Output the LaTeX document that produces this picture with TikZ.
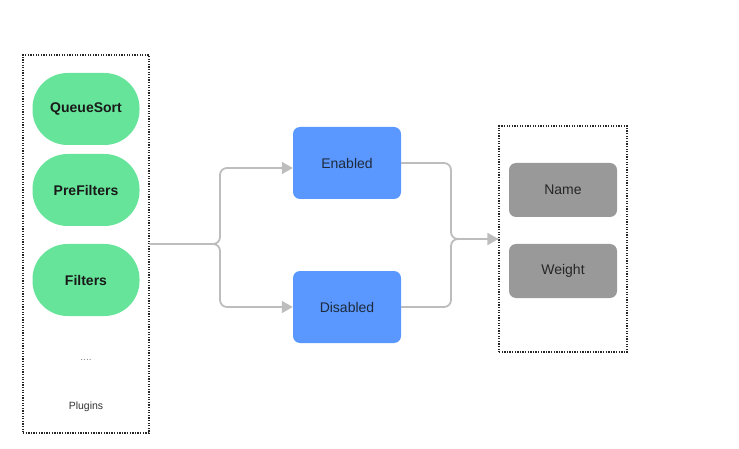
\documentclass[tikz,border=0pt]{standalone}
\usepackage{fontspec}
\setmainfont{Liberation Sans}
\usetikzlibrary{arrows.meta,calc}
\definecolor{plugin}{HTML}{66E59A}
\definecolor{state}{HTML}{5A98FF}
\definecolor{field}{HTML}{999999}
\definecolor{conn}{HTML}{BDBDBD}
\definecolor{txt}{HTML}{1E2A3A}
\tikzset{
  x=1pt,y=-1pt,
  frame/.style={draw=black!85, line width=1.1pt, dash pattern=on 1.3pt off 1.3pt},
  plug/.style={fill=plugin, draw=none, rounded corners=35pt, minimum width=107pt, minimum height=72pt, font=\fontsize{14}{16}\selectfont\bfseries, text=black!90},
  statebox/.style={fill=state, draw=none, rounded corners=7pt, minimum width=108pt, minimum height=72pt, font=\fontsize{14}{16}\selectfont, text=txt},
  fieldbox/.style={fill=field, draw=none, rounded corners=7pt, minimum width=108pt, minimum height=54pt, font=\fontsize{14}{16}\selectfont, text=black!85},
  link/.style={draw=conn, line width=1.8pt, rounded corners=7pt},
  tip/.style={-{Triangle[length=11pt,width=12pt]}}
}
\begin{document}
\begin{tikzpicture}
\useasboundingbox (0,0) rectangle (739,449);
\node[frame, minimum width=126pt, minimum height=378pt, inner sep=0pt] (lbox) at (86,244) {};
\node[plug] (qs) at (86,109) {QueueSort};
\node[plug] (pf) at (86,190) {PreFilters};
\node[plug] (fi) at (86,280) {Filters};
\node[text=black!50, font=\fontsize{10}{11}\selectfont] (dots) at (86,360) {....};
\node[text=black!80, font=\fontsize{10.5}{12}\selectfont] (plg) at (86,407) {Plugins};

\node[statebox] (en) at (347,163) {Enabled};
\node[statebox] (dis) at (347,307) {Disabled};

\node[frame, minimum width=128pt, minimum height=226pt, inner sep=0pt] (rbox) at (563,239) {};
\node[fieldbox] (nm) at (563,190) {Name};
\node[fieldbox] (wt) at (563,271) {Weight};

\coordinate (j1) at (220,244);
\coordinate (j2) at (451,239);
\draw[link, tip] (lbox.east |- j1) -- (j1) |- ([yshift=-5pt]en.west);
\draw[link, tip] (lbox.east |- j1) -- (j1) |- (dis.west);
\draw[link] (en.east) -| (j2) -- (rbox.west);
\draw[link, tip] (dis.east) -| (j2) -- (rbox.west);
\end{tikzpicture}
\end{document}
